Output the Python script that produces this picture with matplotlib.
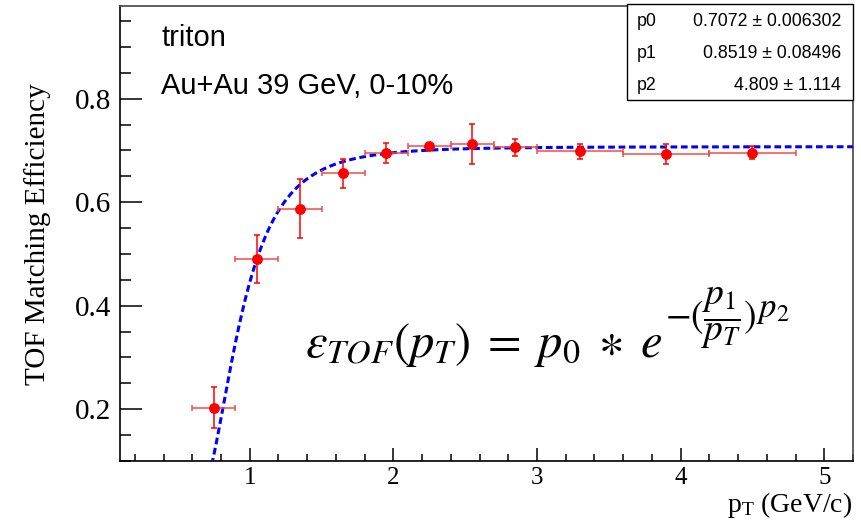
#!/usr/bin/env python3
"""
tofEff.py - TOF matching efficiency vs pT for tritons, with fit
Writes: out.png
"""

import numpy as np
import matplotlib
matplotlib.use("Agg")
import matplotlib.pyplot as plt
import matplotlib.patches as patches
from matplotlib.ticker import MultipleLocator, FixedLocator

plt.rcParams["font.family"] = ["Liberation Serif", "DejaVu Serif"]
plt.rcParams["mathtext.fontset"] = "stix"

# measured points (pT bin centre, half width, efficiency, error)
pt      = [0.75, 1.05, 1.35, 1.65, 1.95, 2.25, 2.55, 2.85, 3.3, 3.9, 4.5]
pt_err  = [0.15, 0.15, 0.15, 0.15, 0.15, 0.15, 0.15, 0.15, 0.3, 0.3, 0.3]
eff     = [0.203, 0.490, 0.587, 0.656, 0.695, 0.708, 0.712, 0.706, 0.698, 0.693, 0.696]
eff_err = [0.040, 0.047, 0.057, 0.028, 0.020, 0.005, 0.039, 0.016, 0.015, 0.019, 0.012]

# fit results
par_names  = ["p0", "p1", "p2"]
par_values = [0.7072, 0.8519, 4.809]
par_errors = ["0.006302", "0.08496", "1.114"]
par_labels = ["0.7072", "0.8519", "4.809"]

x_ticks = [1, 2, 3, 4, 5]
y_ticks = [0.2, 0.4, 0.6, 0.8]

W, H = 861, 524
DPI  = 100

def fx(px):
    return px / W

def fy(py):
    return 1 - py / H

def fit_func(x, p0, p1, p2):
    return p0 * np.exp(-(p1 / x) ** p2)

fig = plt.figure(figsize=(W / DPI, H / DPI), dpi=DPI)
ax = fig.add_axes([fx(120.5), fy(461), fx(853) - fx(120.5), fy(5.5) - fy(461)])

ax.set_xlim(0.1, 5.2)
ax.set_ylim(0.1, 0.98)

# fit curve
xs = np.linspace(0.70, 5.2, 400)
ax.plot(xs, fit_func(xs, *par_values), color="#0000ff", lw=2.2,
        dashes=(2.2, 1.2), zorder=3)

# data: horizontal bars a little lighter, like the original
ax.errorbar(pt, eff, xerr=pt_err, fmt="none", ecolor="#f24a4a",
            elinewidth=1.1, capsize=2.4, capthick=1.1, zorder=4)
ax.errorbar(pt, eff, yerr=eff_err, fmt="o", color="#ff0000", ms=6.8,
            ecolor="#ff0000", elinewidth=1.1, capsize=2.4, capthick=1.1, zorder=5)

# axes cosmetics, ROOT-ish
for side in ["left", "bottom", "right", "top"]:
    ax.spines[side].set_linewidth(1.2)
    ax.spines[side].set_color("black")
ax.spines["top"].set_color("#444444")
ax.spines["right"].set_color("#444444")

ax.xaxis.set_major_locator(FixedLocator(x_ticks))
ax.xaxis.set_minor_locator(MultipleLocator(0.2))
ax.yaxis.set_major_locator(FixedLocator(y_ticks))
ax.yaxis.set_minor_locator(MultipleLocator(0.05))
ax.set_yticklabels([f"{v:.1f}" for v in y_ticks])
ax.tick_params(axis="y", which="major", direction="in", length=16, width=1.1,
               labelsize=21, pad=7)
ax.tick_params(axis="y", which="minor", direction="in", length=8, width=1.1)
ax.tick_params(axis="x", which="major", direction="in", length=9.5, width=1.1,
               labelsize=18, pad=4)
ax.tick_params(axis="x", which="minor", direction="in", length=5, width=1.1)

fig.text(fx(38), fy(234), "TOF Matching Efficiency", rotation=90,
         ha="center", va="center", fontsize=21)
fig.text(fx(852), fy(512), r"$\mathregular{p_{T}}$ (GeV/c)", ha="right",
         va="baseline", fontsize=20)

# labels in the pad
sans = ["Liberation Sans", "DejaVu Sans"]
fig.text(fx(161), fy(46), "triton", family=sans, fontsize=21, va="baseline")
fig.text(fx(161), fy(94), "Au+Au 39 GeV, 0-10%", family=sans, fontsize=21,
         va="baseline")

# formula: main part, then the exponent pieces set next to it
renderer = fig.canvas.get_renderer()
main = fig.text(fx(305), fy(357),
                r"$\varepsilon_{TOF}(p_T)\;=\;p_0\;\ast\;e$",
                fontsize=35, ha="left", va="baseline")
bb = main.get_window_extent(renderer)
expo = fig.text((bb.x1 + 2) / W, fy(318),
                r"$-(\dfrac{p_1}{p_T})$",
                fontsize=27, ha="left", va="center")
bb2 = expo.get_window_extent(renderer)
fig.text((bb2.x1 + 1) / W, fy(309), r"$p_2$",
         fontsize=25, ha="left", va="center")

# fit stat box
box = patches.Rectangle((fx(626.5), fy(100)), fx(853) - fx(626.5), fy(4) - fy(100),
                        transform=fig.transFigure, facecolor="white",
                        edgecolor="black", lw=1.0, zorder=10)
fig.patches.append(box)
row_y = [22, 54, 86]
for name, lab, err, ry in zip(par_names, par_labels, par_errors, row_y):
    fig.text(fx(637), fy(ry), name, family=sans, fontsize=12.8, va="center", zorder=11)
    fig.text(fx(841), fy(ry), f"{lab} \u00b1 {err}", family=sans, fontsize=12.8,
             va="center", ha="right", zorder=11)

fig.savefig("out.png", dpi=DPI)
